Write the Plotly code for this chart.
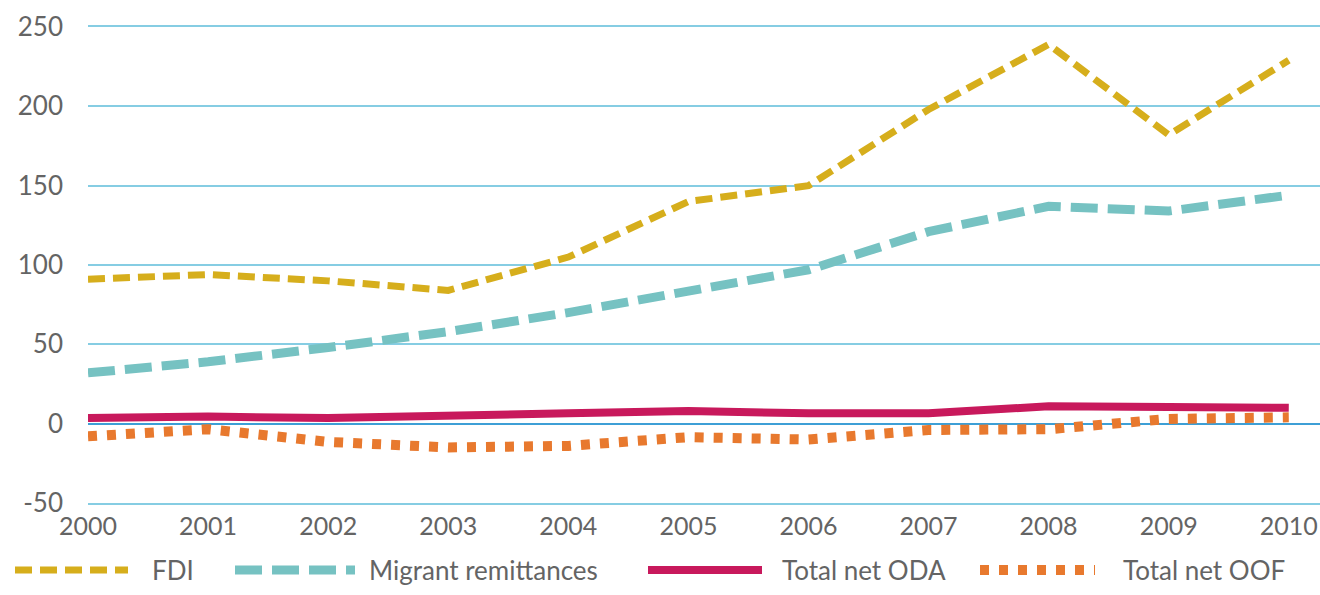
import plotly.graph_objects as go

years = [2000, 2001, 2002, 2003, 2004, 2005, 2006, 2007, 2008, 2009, 2010]
fdi = [91, 94, 90, 84, 105, 140, 150, 198, 239, 182, 229]
remittances = [32, 39, 48, 58, 70, 84, 97, 121, 137, 134, 144]
oda = [3.5, 4.5, 3.5, 4.5, 6.5, 8, 6.5, 6.5, 11, 10.5, 10]
oof = [-8, -3.5, -11.5, -15, -14, -8.5, -10, -4, -3.5, 3, 4]

y_ticks = [-50, 0, 50, 100, 150, 200, 250]
y_tick_text = ["-50", "0", "50", "100", "150", "200", "250"]
series_names = ["FDI", "Migrant remittances", "Total net ODA", "Total net OOF"]

C_FDI = "#D6AE1C"
C_REM = "#76C2C2"
C_ODA = "#C8195C"
C_OOF = "#E8792E"
GRID = "#86CDE3"
TXT = "#646464"
FONT = "Lato"

W, H = 1320, 595
L, R, T, B = 88, 0, 27, 92
PW, PH = W - L - R, H - T - B

styles = [
    dict(color=C_FDI, width=7, dash="17px,8px"),
    dict(color=C_REM, width=9, dash="27px,10px"),
    dict(color=C_ODA, width=8, dash="solid"),
    dict(color=C_OOF, width=10, dash="9px,10px"),
]
data = [fdi, remittances, oda, oof]

fig = go.Figure()
for name, vals, st in zip(series_names, data, styles):
    fig.add_trace(go.Scatter(x=years, y=vals, mode="lines", name=name,
                             line=st, showlegend=False, hoverinfo="skip"))

def px2x(px):
    return (px - L) / PW

def py2y(py):
    return (T + PH - py) / PH

# custom legend (long line samples as in the reference)
leg_y = py2y(570)
samples = [(15, 128, 150), (235, 355, 367), (648, 762, 780), (980, 1095, 1121)]
for (x0, x1, tx), name, st in zip(samples, series_names, styles):
    fig.add_shape(type="line", xref="paper", yref="paper",
                  x0=px2x(x0), x1=px2x(x1), y0=leg_y, y1=leg_y,
                  line=dict(color=st["color"], width=st["width"], dash=st["dash"]))
    fig.add_annotation(xref="paper", yref="paper", x=px2x(tx), y=leg_y,
                       text=name, showarrow=False, xanchor="left", yanchor="middle",
                       font=dict(family=FONT, size=26, color=TXT))

fig.update_layout(
    width=W, height=H,
    margin=dict(l=L, r=R, t=T, b=B, autoexpand=False),
    paper_bgcolor="white", plot_bgcolor="white",
    font=dict(family=FONT, size=26, color=TXT),
    showlegend=False,
)
fig.update_xaxes(
    range=[2000, 2010.26], automargin=False,
    tickmode="array", tickvals=years, ticktext=[str(y) for y in years],
    ticklabeloverflow="allow",
    showgrid=False, zeroline=False, ticks="",
    showline=True, mirror=True, linecolor=GRID, linewidth=2,
    tickfont=dict(family=FONT, size=25, color=TXT),
)
fig.update_yaxes(
    range=[-50, 250], automargin=False,
    tickmode="array", tickvals=y_ticks, ticktext=y_tick_text,
    showgrid=True, gridcolor=GRID, gridwidth=2,
    zeroline=True, zerolinecolor="#3D9FD6", zerolinewidth=2,
    ticks="", ticklabelstandoff=24,
    tickfont=dict(family=FONT, size=26, color=TXT),
)

fig.write_html("out.html", config={"displayModeBar": False},
               post_script="document.body.style.margin='0';")
